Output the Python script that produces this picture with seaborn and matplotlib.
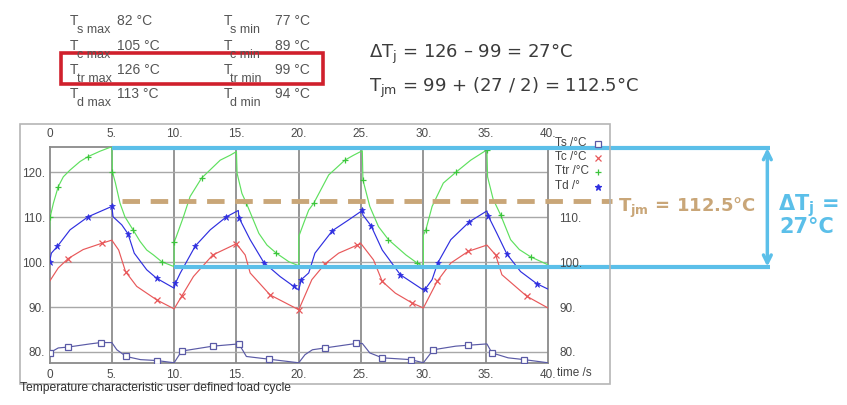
import matplotlib
matplotlib.use("Agg")
import matplotlib.pyplot as plt
import seaborn as sns
from matplotlib.lines import Line2D
from matplotlib.patches import Rectangle

# ---------------- data ----------------
ttr_t = [0.0, 0.05, 0.31, 0.7, 1.11, 1.65, 2.45, 3.1, 4.06, 5.0,
         5.05, 5.29, 5.66, 6.05, 6.7, 7.27, 7.8, 8.34, 9.0, 10.0,
         10.0, 10.15, 10.75, 11.28, 12.2, 13.7, 14.5, 15.0,
         15.05, 15.44, 15.8, 16.8, 17.45, 18.2, 19.2, 20.0,
         20.0, 20.4, 20.8, 21.2, 22.4, 23.7, 24.4, 25.1,
         25.15, 25.7, 26.4, 27.2, 28.6, 29.5, 30.0,
         30.0, 30.2, 30.7, 31.6, 32.65, 33.8, 35.1,
         35.15, 35.6, 36.2, 37.0, 37.7, 38.6, 40.0]
ttr_v = [106.5, 110.0, 113.1, 116.8, 119.0, 120.5, 122.4, 123.5, 124.7, 125.7,
         120.1, 117.6, 113.1, 110.1, 107.2, 104.6, 102.7, 101.6, 100.1, 99.0,
         104.5, 105.5, 110.1, 114.6, 118.7, 122.7, 123.8, 124.6,
         119.8, 115.3, 113.1, 106.4, 103.8, 102.0, 100.1, 99.2,
         105.7, 108.7, 111.6, 113.1, 119.4, 122.7, 123.8, 124.8,
         118.3, 112.4, 107.9, 105.0, 101.6, 99.8, 99.0,
         106.0, 107.2, 112.4, 117.6, 120.1, 122.7, 125.0,
         119.0, 114.0, 110.5, 105.0, 102.8, 101.2, 99.4]
ttr_marks = [1, 3, 7, 10, 14, 18, 20, 24, 30, 33, 39, 41, 44, 47, 49, 52, 55, 57, 60, 63]

td_t = [0.0, 0.15, 0.63, 1.65, 3.1, 5.0, 5.1, 5.8, 6.3, 6.8, 7.8, 8.6, 10.0,
        10.1, 10.5, 11.7, 12.9, 14.2, 15.15, 15.2, 16.1, 17.2, 18.5, 19.6, 20.0,
        20.2, 20.8, 21.3, 22.7, 24.0, 25.1, 25.15, 25.8, 26.7, 28.15, 30.0,
        30.15, 30.7, 31.15, 32.2, 33.7, 35.1, 35.2, 35.9, 36.7, 37.8, 39.1, 40.0]
td_v = [100.0, 102.0, 103.5, 107.2, 110.1, 112.4, 110.1, 108.3, 106.3, 102.0, 98.3, 96.4, 94.2,
        95.3, 97.6, 103.6, 107.2, 110.1, 111.5, 109.9, 105.0, 99.9, 96.8, 94.6, 93.8,
        96.1, 97.6, 102.0, 107.0, 109.4, 111.5, 110.5, 108.1, 102.7, 97.2, 93.8,
        94.0, 96.1, 99.8, 105.0, 109.0, 111.4, 110.3, 106.4, 101.8, 97.9, 95.2, 94.0]
td_marks = [0, 2, 4, 5, 8, 11, 13, 15, 17, 19, 21, 23, 25, 28, 30, 32, 34, 36, 38, 40, 42, 44, 46]

tc_t = [0.0, 0.7, 1.5, 2.7, 4.2, 5.0, 5.55, 6.1, 7.0, 8.6, 10.0,
        10.6, 11.55, 13.1, 15.0, 15.7, 16.1, 17.7, 20.0,
        21.05, 22.1, 23.2, 24.7, 25.0, 26.0, 26.7, 27.75, 29.1, 30.0,
        31.1, 32.2, 33.6, 35.1, 35.8, 36.3, 38.3, 40.0]
tc_v = [95.7, 98.7, 100.8, 102.8, 104.2, 104.9, 102.7, 97.9, 94.6, 91.6, 89.6,
        92.4, 96.8, 101.6, 104.1, 101.6, 97.6, 92.7, 89.4,
        96.1, 99.6, 102.0, 103.8, 104.1, 100.5, 95.7, 93.1, 90.9, 89.8,
        95.7, 99.8, 102.4, 103.8, 101.6, 97.2, 92.4, 89.8]
tc_marks = [2, 4, 7, 9, 11, 13, 14, 17, 18, 20, 22, 25, 27, 29, 31, 33, 35]

ts_t = [0.0, 0.7, 1.5, 3.25, 4.1, 5.0, 5.4, 6.15, 7.3, 8.6, 10.0,
        10.6, 13.1, 15.2, 15.8, 17.6, 20.0,
        20.5, 21.1, 22.1, 24.6, 25.1, 25.7, 26.7, 29.0, 30.0,
        30.8, 32.6, 33.6, 35.1, 35.5, 36.8, 38.1, 40.0]
ts_v = [79.8, 80.9, 81.1, 81.8, 82.1, 82.1, 80.5, 79.0, 78.3, 78.1, 77.6,
        80.2, 81.3, 81.8, 79.0, 78.4, 77.6,
        79.4, 80.5, 80.9, 81.9, 81.9, 79.8, 78.7, 78.3, 77.6,
        80.5, 81.3, 81.5, 81.8, 79.8, 78.7, 78.3, 77.6]
ts_marks = [0, 2, 4, 7, 9, 11, 12, 13, 15, 19, 20, 23, 24, 26, 28, 30, 32]

x_ticks = [0, 5, 10, 15, 20, 25, 30, 35, 40]
x_tick_labels = ["0", "5.", "10.", "15.", "20.", "25.", "30.", "35.", "40."]
y_ticks = [80, 90, 100, 110, 120]
y_tick_labels = ["80.", "90.", "100.", "110.", "120."]
y_right_labels = ["80.", "90.", "100.", "110.", ""]

legend_labels = ["Ts /°C", "Tc /°C", "Ttr /°C", "Td /°"]

table_subs_max = ["s max", "c max", "tr max", "d max"]
table_vals_max = ["82 °C", "105 °C", "126 °C", "113 °C"]
table_subs_min = ["s min", "c min", "tr min", "d min"]
table_vals_min = ["77 °C", "89 °C", "99 °C", "94 °C"]

tr_max, tr_min = 126, 99
delta_tj = tr_max - tr_min
tjm = tr_min + delta_tj / 2

# ---------------- style ----------------
sns.set_theme(style="white")
plt.rcParams['font.family'] = ['Liberation Sans', 'DejaVu Sans']
plt.rcParams['mathtext.default'] = 'regular'

W, H = 847, 405
fig = plt.figure(figsize=(W / 100, H / 100), dpi=100)
fig.patch.set_facecolor("white")

ax = fig.add_axes([49.5 / W, 1 - 363 / H, 498.5 / W, 216.5 / H])
ax.set_facecolor("white")

C_TS = "#5a5aa6"
C_TC = "#e8585a"
C_TTR = "#5ee05e"
C_TD = "#2f2fe0"
LW = 0.85

sns.lineplot(x=ts_t, y=ts_v, ax=ax, estimator=None, sort=False, color=C_TS, lw=LW,
             marker="s", markevery=ts_marks, ms=4.2, mfc="white", mec=C_TS, mew=0.9, zorder=4)
sns.lineplot(x=tc_t, y=tc_v, ax=ax, estimator=None, sort=False, color=C_TC, lw=LW,
             marker="x", markevery=tc_marks, ms=4.2, mec=C_TC, mew=0.9, zorder=4)
sns.lineplot(x=ttr_t, y=ttr_v, ax=ax, estimator=None, sort=False, color=C_TTR, lw=LW,
             marker="+", markevery=ttr_marks, ms=4.2, mec="#3cc43c", mew=0.9, zorder=4)
sns.lineplot(x=td_t, y=td_v, ax=ax, estimator=None, sort=False, color=C_TD, lw=LW,
             marker="*", markevery=td_marks, ms=5, mfc=C_TD, mec=C_TD, mew=0.5, zorder=4)

ax.set_xlim(0, 40)
ax.set_ylim(77.55, 125.74)
ax.set_xlabel("")
ax.set_ylabel("")
ax.set_xticks(x_ticks)
ax.set_xticklabels(x_tick_labels)
ax.set_yticks(y_ticks)
ax.set_yticklabels(y_tick_labels)
ax.tick_params(axis="x", which="both", top=False, bottom=False, labeltop=True,
               labelbottom=True, length=0, pad=4.5, labelsize=8.5, labelcolor="#4a4a4a")
ax.tick_params(axis="y", length=0, pad=3.2, labelsize=8.5, labelcolor="#4a4a4a")
ax.grid(False)
for xv in x_ticks[1:-1]:
    ax.axvline(xv, color="#8e8e8e", lw=1.3, zorder=1)
for yv in y_ticks:
    ax.axhline(yv, color="#a8a8a8", lw=1.0, zorder=1)
for s in ax.spines.values():
    s.set_color("#8a8a8a")
    s.set_linewidth(1.3)
    s.set_visible(True)

ax2 = ax.twinx()
ax2.set_ylim(ax.get_ylim())
ax2.set_yticks(y_ticks)
ax2.set_yticklabels(y_right_labels)
ax2.tick_params(axis="y", length=0, pad=8, labelsize=8.5, labelcolor="#4a4a4a")
ax2.grid(False)
for s in ax2.spines.values():
    s.set_visible(False)

# ---- annotation lines (blue range, dashed Tjm) ----
BLUE = "#5bbfe9"
TAN = "#c9a678"
ax.plot([5, 57.8], [125.4, 125.4], color=BLUE, lw=3, clip_on=False, zorder=6, solid_capstyle="butt")
ax.plot([10, 57.8], [tr_min, tr_min], color=BLUE, lw=3, clip_on=False, zorder=6, solid_capstyle="butt")
ax.annotate("", xy=(57.6, 125.4), xytext=(57.6, tr_min), xycoords="data",
            arrowprops=dict(arrowstyle="<->", color=BLUE, lw=2.5, mutation_scale=14,
                            shrinkA=0, shrinkB=0), annotation_clip=False, zorder=6)
ax.plot([5.8, 45.1], [113.6, 113.6], color=TAN, lw=3.5, clip_on=False, zorder=6,
        dashes=(3.6, 2.2))

# ---------------- overlay (figure pixel coords) ----------------
ov = fig.add_axes([0, 0, 1, 1], zorder=10)
ov.set_xlim(0, W)
ov.set_ylim(H, 0)
ov.axis("off")
ov.patch.set_alpha(0)

# outer chart frame
ov.add_patch(Rectangle((20, 124), 590, 260, fill=False, ec="#b5b5b5", lw=1.2))

# legend
leg_markers = [("s", C_TS, "white", 4.0), ("x", C_TC, C_TC, 4.0), ("+", "#3cc43c", "#3cc43c", 4.0), ("*", C_TD, C_TD, 5.0)]
leg_y = [143, 157, 171, 186]
for lab, (m, ec, fc, ms), yy in zip(legend_labels, leg_markers, leg_y):
    ov.text(555, yy, lab, fontsize=8.5, color="#444444", va="center", ha="left")
    ov.add_line(Line2D([598], [yy + 1], marker=m, ms=ms, mec=ec, mfc=fc, mew=0.9, ls="none"))

ov.text(557, 372.5, "time /s", fontsize=8.5, color="#444444", va="center", ha="left")
ov.text(20, 391, "Temperature characteristic user defined load cycle", fontsize=8.7,
        color="#333333", va="baseline", ha="left")

# top table
row_base = [25, 49.5, 74, 98.5]
TC = "#555555"
for i, yb in enumerate(row_base):
    ov.text(70, yb, "T", fontsize=10, color=TC, va="baseline")
    ov.text(77, yb + 8, table_subs_max[i], fontsize=9, color=TC, va="baseline")
    ov.text(117, yb, table_vals_max[i], fontsize=10, color=TC, va="baseline")
    ov.text(224, yb, "T", fontsize=10, color=TC, va="baseline")
    ov.text(230, yb + 8, table_subs_min[i], fontsize=9, color=TC, va="baseline")
    ov.text(275, yb, table_vals_min[i], fontsize=10, color=TC, va="baseline")
ov.add_patch(Rectangle((60.7, 53.3), 262.6, 30.5, fill=False, ec="#d0202c", lw=2.6))

# equations
EQ = "#3c3c3c"
ov.text(369, 58, r"ΔT$_{j}$ = %d – %d = %d°C" % (tr_max, tr_min, delta_tj),
        fontsize=13, color=EQ, va="baseline", ha="left", family="DejaVu Sans")
ov.text(369, 92, r"T$_{jm}$ = %d + (%d / 2) = %.1f°C" % (tr_min, delta_tj, tjm),
        fontsize=13, color=EQ, va="baseline", ha="left", family="DejaVu Sans")

# annotation texts
ov.text(618, 212, r"T$_{\mathbf{jm}}$ = %.1f°C" % tjm, fontsize=13, color=TAN,
        fontweight="bold", va="baseline", ha="left", family="DejaVu Sans")
ov.text(778, 210, r"ΔT$_{\mathbf{j}}$ =", fontsize=15, color=BLUE,
        fontweight="bold", va="baseline", ha="left", family="DejaVu Sans")
ov.text(779, 233, "%d°C" % delta_tj, fontsize=15, color=BLUE,
        fontweight="bold", va="baseline", ha="left", family="DejaVu Sans")

fig.savefig("out.png", dpi=100, facecolor="white")
